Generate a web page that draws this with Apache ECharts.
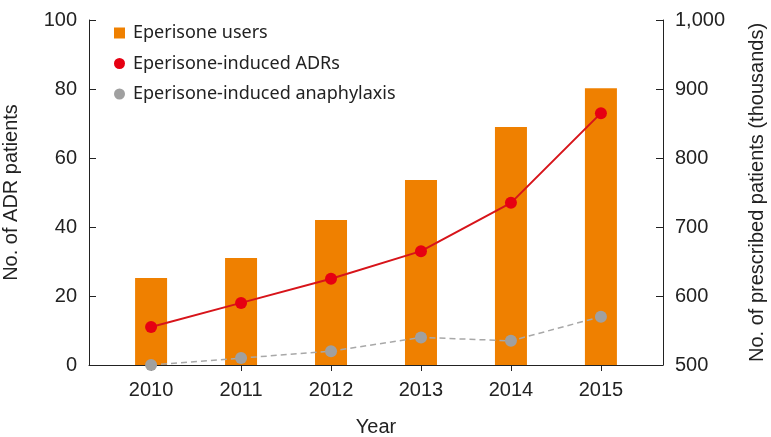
<!DOCTYPE html>
<html><head><meta charset="utf-8">
<script src="https://cdn.jsdelivr.net/npm/echarts@6/dist/echarts.min.js"></script>
<style>html,body{margin:0;padding:0;background:#fff}#c{width:771px;height:437px}</style>
</head><body><div id="c"></div>
<script>
const years = [2010, 2011, 2012, 2013, 2014, 2015];
const users = [626, 655, 710, 768, 845, 901];        // thousands (right axis)
const adrs = [11, 18, 25, 33, 47, 73];              // left axis
const anaphylaxis = [0, 2, 4, 8, 7, 14];            // left axis
const leftTicks = [0, 20, 40, 60, 80, 100];
const rightTicks = [500, 600, 700, 800, 900, 1000];

const pair = (arr) => years.map((y, i) => [y, arr[i]]);
const txt = '#222';
const labFont = "'Liberation Sans', Arial, sans-serif";
const chart = echarts.init(document.getElementById('c'), null, {renderer: 'canvas'});
chart.setOption({
  animation: false,
  backgroundColor: '#fff',
  grid: {left: 89, right: 108, top: 20, bottom: 72, containLabel: false, outerBoundsMode: 'none'},
  legend: {
    orient: 'vertical', left: 109, top: 19, itemGap: 12.5,
    itemWidth: 11, itemHeight: 11,
    textStyle: {color: txt, fontSize: 18, fontFamily: "'Noto Sans', sans-serif", padding: [0, 0, 0, 3]},
    data: [
      {name: 'Eperisone users', icon: 'rect'},
      {name: 'Eperisone-induced ADRs', icon: 'circle'},
      {name: 'Eperisone-induced anaphylaxis', icon: 'circle'}
    ]
  },
  xAxis: {
    type: 'value', min: 2009.31, max: 2015.69,
    name: 'Year', nameLocation: 'middle', nameGap: 52,
    nameTextStyle: {color: txt, fontSize: 20, fontFamily: labFont},
    axisLine: {show: true, lineStyle: {color: txt, width: 1}},
    axisTick: {show: true, inside: false, length: 6, customValues: years, lineStyle: {color: txt}},
    axisLabel: {customValues: years, color: txt, fontSize: 20, fontFamily: labFont, margin: 15, formatter: v => String(v)},
    splitLine: {show: false}
  },
  yAxis: [
    {
      type: 'value', min: 0, max: 100, interval: 20, position: 'left',
      name: 'No. of ADR patients', nameLocation: 'middle', nameGap: 68, nameRotate: 90,
      nameTextStyle: {color: txt, fontSize: 20, fontFamily: labFont},
      axisLine: {show: true, lineStyle: {color: txt, width: 1}},
      axisTick: {show: true, inside: true, length: 7, lineStyle: {color: txt}},
      axisLabel: {color: txt, fontSize: 20, fontFamily: labFont, margin: 12},
      splitLine: {show: false}
    },
    {
      type: 'value', min: 500, max: 1000, interval: 100, position: 'right',
      name: 'No. of prescribed patients (thousands)', nameLocation: 'middle', nameGap: 84, nameRotate: 90,
      nameTextStyle: {color: txt, fontSize: 20, fontFamily: labFont},
      axisLine: {show: true, lineStyle: {color: txt, width: 1}},
      axisTick: {show: true, inside: true, length: 7, lineStyle: {color: txt}},
      axisLabel: {color: txt, fontSize: 20, fontFamily: labFont, margin: 12},
      splitLine: {show: false}
    }
  ],
  series: [
    {
      name: 'Eperisone users', type: 'bar', yAxisIndex: 1, barWidth: 32,
      itemStyle: {color: '#EF8000'}, data: pair(users), z: 1
    },
    {
      name: 'Eperisone-induced ADRs', type: 'line', yAxisIndex: 0,
      symbol: 'circle', symbolSize: 12, smooth: false,
      lineStyle: {color: '#D7141A', width: 2},
      itemStyle: {color: '#E60012'}, data: pair(adrs), z: 3
    },
    {
      name: 'Eperisone-induced anaphylaxis', type: 'line', yAxisIndex: 0,
      symbol: 'circle', symbolSize: 12,
      lineStyle: {color: '#A8A8A8', width: 1.5, type: [6, 4]},
      itemStyle: {color: '#A0A0A0'}, data: pair(anaphylaxis), z: 2
    }
  ]
});
</script></body></html>
